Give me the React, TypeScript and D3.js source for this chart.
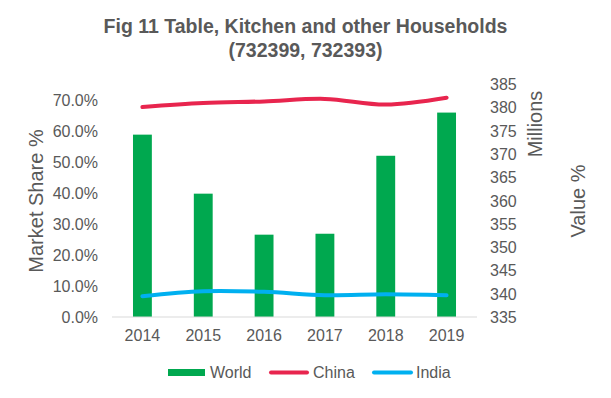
import * as d3 from 'd3';

const years = ['2014', '2015', '2016', '2017', '2018', '2019'];
const world = [0.587, 0.397, 0.265, 0.268, 0.519, 0.658];
const china = [0.676, 0.689, 0.694, 0.702, 0.684, 0.706];
const india = [0.067, 0.083, 0.081, 0.07, 0.073, 0.07];
const leftTicks = [0, 0.1, 0.2, 0.3, 0.4, 0.5, 0.6, 0.7];
const rightTicks = [335, 340, 345, 350, 355, 360, 365, 370, 375, 380, 385];

const W = 611;
const H = 398;
const left = 112;
const right = 477;
const top = 84;
const bottom = 317;
const textColor = '#595959';
const font = '"Liberation Sans", Arial, sans-serif';

export default function App() {
  const x = d3.scaleBand().domain(years).range([left, right]).paddingInner(0.69).paddingOuter(0.345);
  const y = d3.scaleLinear().domain([0, 0.75]).range([bottom, top]);
  const yR = d3.scaleLinear().domain([335, 385]).range([bottom, top]);
  const cx = (i: number) => (x(years[i]) as number) + x.bandwidth() / 2;

  const line = d3
    .line<number>()
    .x((_, i) => cx(i))
    .y((d) => y(d))
    .curve(d3.curveCatmullRom.alpha(0.5));

  const fmt = d3.format('.1%');

  return (
    <svg width={W} height={H} style={{ position: 'absolute', left: 0, top: 0 }} fontFamily={font}>
      <rect width={W} height={H} fill="#fff" />
      <text x={W / 2} y={33} textAnchor="middle" fontSize={19.5} fontWeight="bold" fill={textColor}>
        Fig 11 Table, Kitchen and other Households
      </text>
      <text x={W / 2} y={57} textAnchor="middle" fontSize={19.5} fontWeight="bold" fill={textColor}>
        (732399, 732393)
      </text>

      {leftTicks.map((t) => (
        <text key={t} x={98} y={y(t) + 6} textAnchor="end" fontSize={16} fill={textColor}>
          {fmt(t)}
        </text>
      ))}
      {rightTicks.map((t) => (
        <text key={t} x={490} y={yR(t) + 6} textAnchor="start" fontSize={16} fill={textColor}>
          {t}
        </text>
      ))}

      <text transform="translate(43,201) rotate(-90)" textAnchor="middle" fontSize={20} fill={textColor}>
        Market Share %
      </text>
      <text transform="translate(542,124) rotate(-90)" textAnchor="middle" fontSize={20} fill={textColor}>
        Millions
      </text>
      <text transform="translate(585,201) rotate(-90)" textAnchor="middle" fontSize={20} fill={textColor}>
        Value %
      </text>

      {world.map((v, i) => (
        <rect key={years[i]} x={x(years[i])} y={y(v)} width={x.bandwidth()} height={y(0) - y(v)} fill="#00A84F" />
      ))}

      <line x1={left} x2={right} y1={bottom} y2={bottom} stroke="#d9d9d9" strokeWidth={1} />

      <path d={line(china) || ''} fill="none" stroke="#E8254E" strokeWidth={4} strokeLinecap="round" />
      <path d={line(india) || ''} fill="none" stroke="#00B0F0" strokeWidth={4} strokeLinecap="round" />

      {years.map((yr, i) => (
        <text key={yr} x={cx(i)} y={341} textAnchor="middle" fontSize={16} fill={textColor}>
          {yr}
        </text>
      ))}

      <g fontSize={16} fill={textColor}>
        <rect x={168} y={369} width={37} height={7} fill="#00A84F" />
        <text x={210} y={378}>World</text>
        <line x1={271} x2={307} y1={372.5} y2={372.5} stroke="#E8254E" strokeWidth={4} strokeLinecap="round" />
        <text x={313} y={378}>China</text>
        <line x1={374} x2={411} y1={372.5} y2={372.5} stroke="#00B0F0" strokeWidth={4} strokeLinecap="round" />
        <text x={416} y={378}>India</text>
      </g>
    </svg>
  );
}
